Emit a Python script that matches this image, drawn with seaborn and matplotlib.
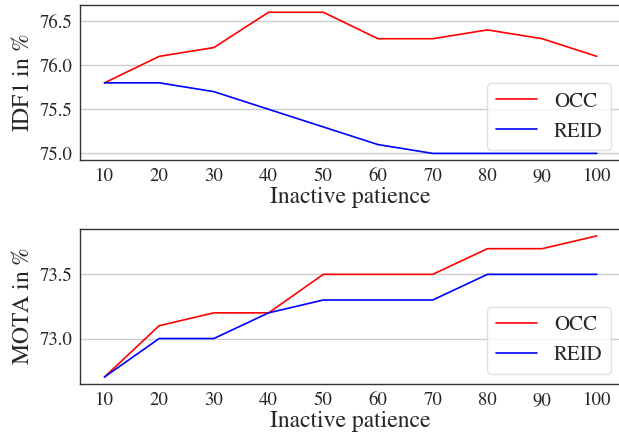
import pandas as pd
import matplotlib
matplotlib.use("Agg")
import matplotlib.pyplot as plt
import seaborn as sns
from matplotlib.ticker import MultipleLocator

patience = [10, 20, 30, 40, 50, 60, 70, 80, 90, 100]
idf1_occ = [75.8, 76.1, 76.2, 76.6, 76.6, 76.3, 76.3, 76.4, 76.3, 76.1]
idf1_reid = [75.8, 75.8, 75.7, 75.5, 75.3, 75.1, 75.0, 75.0, 75.0, 75.0]
mota_occ = [72.7, 73.1, 73.2, 73.2, 73.5, 73.5, 73.5, 73.7, 73.7, 73.8]
mota_reid = [72.7, 73.0, 73.0, 73.2, 73.3, 73.3, 73.3, 73.5, 73.5, 73.5]

sns.set_style("whitegrid")
plt.rcParams['font.family'] = ['STIXGeneral', 'DejaVu Serif']
plt.rcParams['mathtext.fontset'] = 'stix'

def long_df(occ, reid):
    return pd.DataFrame({
        'patience': patience * 2,
        'value': occ + reid,
        'method': ['OCC'] * len(occ) + ['REID'] * len(reid),
    })

fig, axes = plt.subplots(2, 1, figsize=(6.19, 4.33), dpi=100)
fig.subplots_adjust(left=0.129, right=1.004, top=0.988, bottom=0.113, hspace=0.44)

panels = [(idf1_occ, idf1_reid, r'IDF1 in $\%$'), (mota_occ, mota_reid, r'MOTA in $\%$')]
for ax, (occ, reid, ylab) in zip(axes, panels):
    sns.lineplot(data=long_df(occ, reid), x='patience', y='value', hue='method',
                 palette={'OCC': 'red', 'REID': 'blue'}, linewidth=1.2, ax=ax)
    ax.set_xticks(patience)
    ax.yaxis.set_major_locator(MultipleLocator(0.5))
    ax.set_xlim(5.5, 104.5)
    ax.grid(axis='x', visible=False)
    ax.grid(axis='y', color='0.8', linewidth=1)
    ax.set_xlabel('Inactive patience', fontsize=17, labelpad=1)
    ax.set_ylabel(ylab, fontsize=17, labelpad=4)
    ax.tick_params(labelsize=13.5, pad=2)
    for s in ax.spines.values():
        s.set_color('0.2')
        s.set_linewidth(1.0)
    leg = ax.legend(loc='lower right', fontsize=15, title=None)
    leg.get_frame().set_edgecolor('0.85')

plt.savefig('out.png', dpi=100)
